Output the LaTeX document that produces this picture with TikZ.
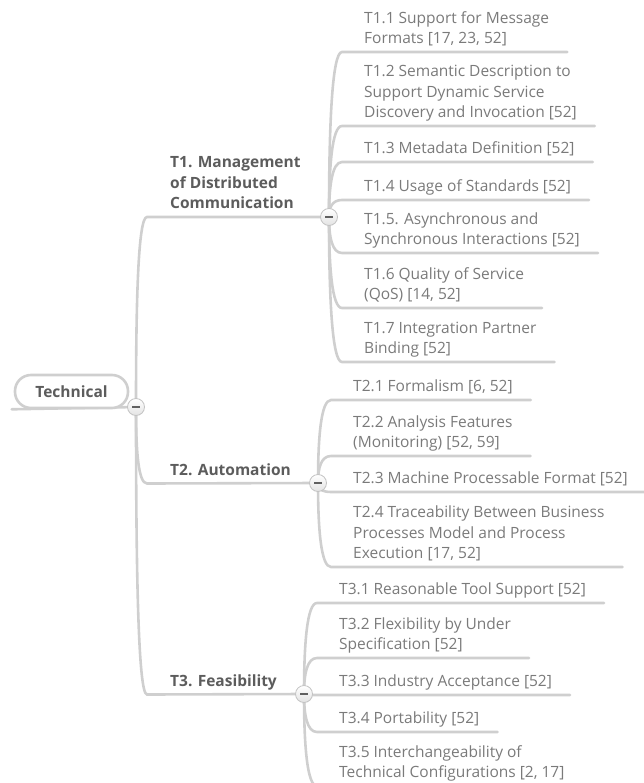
\documentclass[tikz,border=0pt]{standalone}
\usepackage{fontspec}
\setmainfont{Open Sans}
\usetikzlibrary{calc,backgrounds}

\definecolor{linegrey}{HTML}{CFCFCF}
\definecolor{leaftext}{HTML}{7A7A7A}
\definecolor{topictext}{HTML}{5C5C5C}

\tikzset{
  x=1pt, y=1pt,
  branch/.style={draw=linegrey, line width=2.6pt, line cap=round},
  leaf/.style={anchor=south west, inner sep=0pt, text depth=0pt, align=left,
    text=leaftext, font=\fontsize{15.5}{20.5}\selectfont},
  topic/.style={leaf, text=topictext, font=\fontsize{15.5}{20.5}\selectfont\bfseries},
  rootbox/.style={rounded corners=16pt, draw=linegrey, line width=2.6pt, fill=white,
    minimum width=113pt, minimum height=33pt, inner sep=0pt,
    text=topictext, font=\fontsize{15.5}{20.5}\selectfont\bfseries},
  toggle/.style={circle, minimum size=17pt, inner sep=0pt, draw=linegrey!85!gray,
    line width=0.8pt, top color=white, bottom color=gray!22,
    path picture={\draw[line width=1.8pt, gray!75!black]
      ([xshift=-4pt]path picture bounding box.center) --
      ([xshift=4pt]path picture bounding box.center);}}
}

\begin{document}
\begin{tikzpicture}
\useasboundingbox (0,0) rectangle (644,-783);
\clip (0,0) rectangle (644,-783);

% central topic
\node[rootbox] (root) at (71.5,-391.5) {Technical};
\coordinate (rootend) at ([xshift=-2pt]root.south west);

% main topics
\node[topic] (t1) at (170,-209) {T1. Management\\of Distributed\\Communication};
\node[topic] (t2) at (170,-475.5) {T2. Automation};
\node[topic] (t3) at (170,-686.5) {T3. Feasibility};

% collapse toggles
\node[toggle] (c0) at (136,-407) {};
\node[toggle] (c1) at (329,-217) {};
\node[toggle] (c2) at (318,-483) {};
\node[toggle] (c3) at (304,-694) {};

% T1 subtopics
\node[leaf] (l11) at (364,-44)  {T1.1 Support for Message\\Formats [17, 23, 52]};
\node[leaf] (l12) at (364,-118) {T1.2 Semantic Description to\\Support Dynamic Service\\Discovery and Invocation [52]};
\node[leaf] (l13) at (364,-154) {T1.3 Metadata Definition [52]};
\node[leaf] (l14) at (364,-192) {T1.4 Usage of Standards [52]};
\node[leaf] (l15) at (364,-245) {T1.5. Asynchronous and\\Synchronous Interactions [52]};
\node[leaf] (l16) at (364,-300) {T1.6 Quality of Service\\(QoS) [14, 52]};
\node[leaf] (l17) at (364,-354) {T1.7 Integration Partner\\Binding [52]};

% T2 subtopics
\node[leaf] (l21) at (353,-392) {T2.1 Formalism [6, 52]};
\node[leaf] (l22) at (353,-448) {T2.2 Analysis Features\\(Monitoring) [52, 59]};
\node[leaf] (l23) at (353,-484) {T2.3 Machine Processable Format [52]};
\node[leaf] (l24) at (353,-559) {T2.4 Traceability Between Business\\Processes Model and Process\\Execution [17, 52]};

% T3 subtopics
\node[leaf] (l31) at (339,-595) {T3.1 Reasonable Tool Support [52]};
\node[leaf] (l32) at (339,-650) {T3.2 Flexibility by Under\\Specification [52]};
\node[leaf] (l33) at (339,-687) {T3.3 Industry Acceptance [52]};
\node[leaf] (l34) at (339,-724) {T3.4 Portability [52]};
\node[leaf] (l35) at (339,-778) {T3.5 Interchangeability of\\Technical Configurations [2, 17]};

\begin{scope}[on background layer]
  % underline of the central topic
  \draw[branch] (rootend) -- (c0.center);
  % central topic to main topics
  \foreach \t/\c in {t1/c1, t2/c2, t3/c3} {
    \coordinate (\t-in) at ([shift={(-23,-8)}]\t.south west);
    \draw[branch] (c0.center)
      .. controls ($(c0.center)!0.55!(c0.center |- \t-in)$) and ([xshift=-9]\t-in) ..
      (\t-in) -- (\c.center);
  }
  % main topics to subtopics
  \foreach \p/\l in {c1/l11, c1/l12, c1/l13, c1/l14, c1/l15, c1/l16, c1/l17,
                     c2/l21, c2/l22, c2/l23, c2/l24,
                     c3/l31, c3/l32, c3/l33, c3/l34, c3/l35} {
    \coordinate (\l-in) at ([shift={(-22,-8)}]\l.south west);
    \draw[branch] (\p.center)
      .. controls ($(\p.center)!0.55!(\p.center |- \l-in)$) and ([xshift=-10]\l-in) ..
      (\l-in) -- ([shift={(18,-8)}]\l.south east);
  }
\end{scope}
\end{tikzpicture}
\end{document}
